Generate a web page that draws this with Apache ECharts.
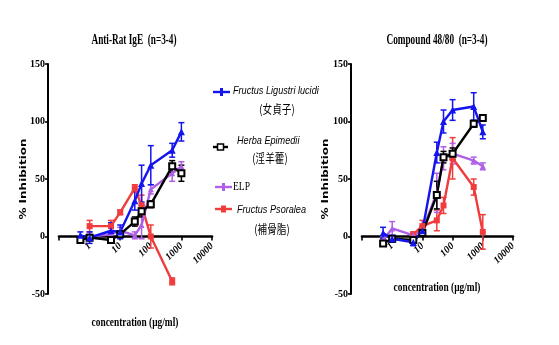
<!DOCTYPE html>
<html><head><meta charset="utf-8">
<script src="https://cdn.jsdelivr.net/npm/echarts@6/dist/echarts.min.js"></script>
<style>html,body{margin:0;padding:0;background:#fff}#c{width:559px;height:345px}</style>
</head><body><div id="c"></div>
<script>
// ---------- data ----------
const xTicks = [0.1, 1, 10, 100, 1000, 10000];
const yTicks = [-50, 0, 50, 100, 150];
const seriesNames = ['Fructus Ligustri lucidi', 'Herba Epimedii', 'ELP', 'Fructus Psoralea'];
const seriesCN = ['(女貞子)', '(淫羊藿)', '', '(補骨脂)'];

// Anti-Rat IgE
const concFLL_A = [0.5, 1, 5, 10, 30, 50, 100, 500, 1000];
const valFLL_A  = [1, -1, 5, 4, 31, 46, 62, 75, 91];
const errFLL_A  = [3, 5, 7, 6, 8, 16, 17, 6, 8];
const concHE_A  = [0.5, 1, 5, 10, 30, 50, 100, 500, 1000];
const valHE_A   = [-3, -1, -3, 2, 13, 22, 28, 61, 55];
const errHE_A   = [2, 2, 2, 2, 4, 5, 3, 5, 7];
const concELP_A = [0.5, 1, 5, 10, 30, 50, 100, 500, 1000];
const valELP_A  = [-2, 0, 2, 5, 1, 10, 41, 55, 61];
const errELP_A  = [2, 2, 2, 3, 3, 12, 4, 7, 4];
const concFP_A  = [1, 5, 10, 30, 50, 100, 500];
const valFP_A   = [9, 9, 21, 42, 27, 0, -39];
const errFP_A   = [5, 5, 2, 3, 9, 10, 3];

// Compound 48/80
const concFLL_B = [0.5, 1, 5, 10, 30, 50, 100, 500, 1000];
const valFLL_B  = [3, -2, -5, 5, 73, 100, 110, 113, 91];
const errFLL_B  = [5, 3, 3, 4, 9, 10, 9, 12, 6];
const concHE_B  = [0.5, 1, 5, 10, 30, 50, 100, 500, 1000];
const valHE_B   = [-6, -2, -3, 3, 36, 69, 72, 98, 103];
const errHE_B   = [2, 2, 2, 2, 12, 5, 5, 3, 2];
const concELP_B = [0.5, 1, 5, 10, 30, 50, 100, 500, 1000];
const valELP_B  = [-3, 7, 1, 5, 38, 68, 72, 66, 61];
const errELP_B  = [3, 6, 2, 3, 17, 10, 9, 3, 3];
const concFP_B  = [5, 10, 30, 50, 100, 500, 1000];
const valFP_B   = [2, 9, 14, 27, 68, 43, 4];
const errFP_B   = [2, 5, 9, 7, 18, 7, 15];

// ---------- styles ----------
const COLORS = ['#1414ee', '#000000', '#b060e6', '#f03c3c'];
const SYMBOLS = ['triangle', 'emptyRect', 'triangle', 'rect'];
const SYMSIZE = [7, 6, 6, 6];

function zip(c, v) { return c.map((x, i) => [x, v[i]]); }
function zip3(c, v, e) { return c.map((x, i) => [x, v[i], e[i]]); }

const sets = [
  [[concFLL_A, valFLL_A, errFLL_A], [concHE_A, valHE_A, errHE_A], [concELP_A, valELP_A, errELP_A], [concFP_A, valFP_A, errFP_A]],
  [[concFLL_B, valFLL_B, errFLL_B], [concHE_B, valHE_B, errHE_B], [concELP_B, valELP_B, errELP_B], [concFP_B, valFP_B, errFP_B]]
];

function errRender(color) {
  return function (params, api) {
    const x = api.value(0), y = api.value(1), e = api.value(2);
    const t = api.coord([x, y + e]), b = api.coord([x, y - e]);
    const st = { stroke: color, lineWidth: 1.5 };
    const w = 3;
    return { type: 'group', children: [
      { type: 'line', shape: { x1: t[0], y1: t[1], x2: b[0], y2: b[1] }, style: st },
      { type: 'line', shape: { x1: t[0] - w, y1: t[1], x2: t[0] + w, y2: t[1] }, style: st },
      { type: 'line', shape: { x1: b[0] - w, y1: b[1], x2: b[0] + w, y2: b[1] }, style: st }
    ]};
  };
}

// grid 0: left data grid, grid 1: left axis grid (upper half, bottom at y=0)
// grid 2: right data grid, grid 3: right axis grid
const series = [];
const drawOrder = [3, 2, 1, 0];
[0, 1].forEach(g => {
  const ax = g * 2;
  drawOrder.forEach(k => {
    const [c, v, e] = sets[g][k];
    series.push({
      type: 'custom', xAxisIndex: ax, yAxisIndex: ax, silent: true,
      encode: { x: 0, y: 1 }, data: zip3(c, v, e), renderItem: errRender(COLORS[k]), z: 2
    });
    series.push({
      type: 'line', name: seriesNames[k], xAxisIndex: ax, yAxisIndex: ax,
      data: zip(c, v), symbol: SYMBOLS[k], symbolSize: SYMSIZE[k],
      color: COLORS[k],
      lineStyle: { color: COLORS[k], width: 2.4 },
      itemStyle: { color: COLORS[k], borderColor: COLORS[k], borderWidth: k === 1 ? 1.5 : 0 },
      z: 3, animation: false
    });
  });
});

function xAxisData(g) {
  return { type: 'log', logBase: 10, gridIndex: g, min: xTicks[0], max: xTicks[xTicks.length - 1], show: false };
}
function xAxisShown(g) {
  return {
    type: 'log', logBase: 10, gridIndex: g, min: xTicks[0], max: xTicks[xTicks.length - 1],
    position: 'bottom',
    axisLine: { onZero: false, lineStyle: { color: '#000', width: 2.6 } },
    axisTick: { show: true, length: 4, lineStyle: { color: '#000', width: 1.6 } },
    splitLine: { show: false }, minorTick: { show: false },
    axisLabel: {
      rotate: 45, margin: 8, color: '#000', fontFamily: 'Liberation Serif',
      fontWeight: 'bold', fontStyle: 'italic', fontSize: 10,
      formatter: v => (v < 0.5 ? '' : String(Math.round(v)))
    }
  };
}
function yAxisData(g) {
  return {
    type: 'value', gridIndex: g, min: yTicks[0], max: yTicks[yTicks.length - 1], interval: 50,
    offset: 11,
    axisLine: { show: true, onZero: false, lineStyle: { color: '#000', width: 2 } },
    axisTick: { show: true, length: 3, lineStyle: { color: '#000', width: 1.6 } },
    splitLine: { show: false },
    axisLabel: { margin: 3, color: '#000', fontFamily: 'Liberation Serif', fontWeight: 'bold', fontSize: 10 }
  };
}
function yAxisHidden(g) {
  return { type: 'value', gridIndex: g, min: 0, max: yTicks[yTicks.length - 1], show: false };
}

function txt(x, y, s, opt) {
  opt = opt || {};
  return {
    type: 'text', x: x, y: y, rotation: opt.rotation || 0,
    scaleX: opt.sx || 1, scaleY: opt.sy || 1, z: 10,
    style: { text: s, font: opt.font, fill: '#000', textAlign: opt.align || 'center', textVerticalAlign: 'middle' }
  };
}

const graphics = [
  txt(134, 40, 'Anti-Rat IgE  (n=3-4)', { font: 'bold 14px "Liberation Serif"', sx: 0.66 }),
  txt(437, 40, 'Compound 48/80  (n=3-4)', { font: 'bold 14px "Liberation Serif"', sx: 0.66 }),
  txt(135, 323, 'concentration (µg/ml)', { font: 'bold 13px "Liberation Serif"', sx: 0.72 }),
  txt(437, 288, 'concentration (µg/ml)', { font: 'bold 13px "Liberation Serif"', sx: 0.72 }),
  txt(24, 179, '% Inhibition', { font: 'bold 12px "DejaVu Sans"', rotation: Math.PI / 2, sy: 0.7 }),
  txt(326, 179, '% Inhibition', { font: 'bold 12px "DejaVu Sans"', rotation: Math.PI / 2, sy: 0.7 })
];

// legend (drawn)
const legY = [92, 147, 187, 209];
const legX1 = [213, 213, 215, 215], legX2 = [230, 228, 232, 232];
const legTextX = [233, 237, 233, 237];
const legTextY = [91, 141, 187, 210];
const legCNX = [277, 270, 0, 272];
const legCNY = [109, 158, 0, 229];
for (let k = 0; k < 4; k++) {
  const cx = (legX1[k] + legX2[k]) / 2, y = legY[k];
  graphics.push({ type: 'line', z: 10, shape: { x1: legX1[k], y1: y, x2: legX2[k], y2: y }, style: { stroke: COLORS[k], lineWidth: 2.4 } });
  if (k === 1) {
    graphics.push({ type: 'rect', z: 11, shape: { x: cx - 3, y: y - 3, width: 6, height: 6 }, style: { fill: '#fff', stroke: '#000', lineWidth: 1.5 } });
  } else if (k === 3) {
    graphics.push({ type: 'rect', z: 11, shape: { x: cx - 2.5, y: y - 3.5, width: 5, height: 7 }, style: { fill: COLORS[k] } });
  } else {
    graphics.push({ type: 'rect', z: 11, shape: { x: cx - 1.5, y: y - 4, width: 3, height: 8 }, style: { fill: COLORS[k] } });
  }
  if (k === 2) {
    graphics.push(txt(legTextX[k], legTextY[k], seriesNames[k], { font: '12px "Liberation Serif"', sx: 0.8, align: 'left' }));
  } else {
    graphics.push(txt(legTextX[k], legTextY[k], seriesNames[k], { font: 'italic 11px "Liberation Sans"', sx: 0.83, align: 'left' }));
    graphics.push(txt(legCNX[k], legCNY[k], seriesCN[k], { font: '12px "Noto Sans CJK TC"', sx: 0.8 }));
  }
}

const chart = echarts.init(document.getElementById('c'), null, { renderer: 'canvas' });
chart.setOption({
  animation: false,
  backgroundColor: '#fff',
  grid: [
    { left: 59, right: 347, top: 64, bottom: 51 },
    { left: 59, right: 347, top: 64, bottom: 108.5 },
    { left: 362, right: 46, top: 64, bottom: 51 },
    { left: 362, right: 46, top: 64, bottom: 108.5 }
  ],
  xAxis: [xAxisData(0), xAxisShown(1), xAxisData(2), xAxisShown(3)],
  yAxis: [yAxisData(0), yAxisHidden(1), yAxisData(2), yAxisHidden(3)],
  series: series,
  graphic: graphics
});
</script></body></html>
